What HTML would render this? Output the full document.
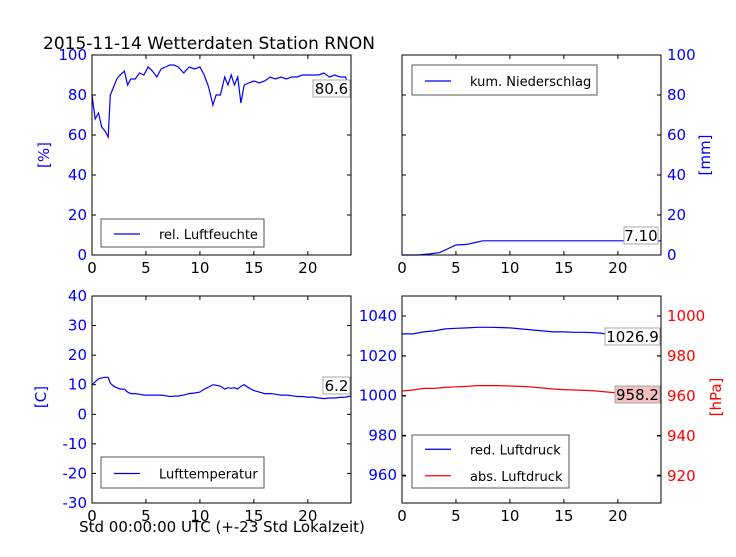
<!DOCTYPE html>
<html><head><meta charset="utf-8"><style>
body{margin:0;background:#fff;}
svg{font-family:"DejaVu Sans","Liberation Sans",sans-serif;}
</style></head><body>
<svg id="c" width="736" height="552" xmlns="http://www.w3.org/2000/svg">
<text x="43" y="49" font-size="17">2015-11-14 Wetterdaten Station RNON</text>
<g id="g"></g>
</svg>
<script>
const hours=[0,0.3,0.6,0.9,1.2,1.5,1.7,2.0,2.3,2.6,3.0,3.3,3.6,4.0,4.4,4.8,5.2,5.6,6.0,6.4,6.8,7.2,7.6,8.0,8.5,9.0,9.5,10.0,10.4,10.8,11.2,11.5,11.9,12.3,12.6,12.9,13.2,13.5,13.8,14.1,14.5,15,15.5,16,16.5,17,17.5,18,18.5,19,19.5,20,20.5,21,21.5,22,22.5,23,23.5,24];
const humidity=[80,68,71,64,62,59,80,84,88,90,92,85,88,88,91,90,94,92,89,93,94,95,95,94,91,94,93,94,90,84,75,80,80,89,85,90,85,89,76,85,86,87,86,87,89,88,89,88,89,89,90,90,90,90,91,89,90,89,89,80.6];
const precipHours=[0,1.5,2.5,3.5,4.2,5,6,7,7.5,10,15,20,24];
const precip=[0,0,0.5,1.2,3,5,5.3,6.5,7.1,7.1,7.1,7.1,7.1];
const temperature=[10,11,12,12.3,12.5,12.5,10.5,9.5,9,8.5,8.5,7.5,7,7,6.8,6.5,6.5,6.5,6.5,6.5,6.3,6,6.1,6.2,6.5,7,7.2,7.5,8.5,9.2,10,9.8,9.5,8.5,9,8.8,9,8.5,9.5,10,9,8,7.5,7,7,6.8,6.5,6.5,6.3,6,6,5.8,5.8,5.5,5.3,5.5,5.5,5.7,5.8,6.2];
const pressHours=[0,1,2,3,4,5,6,7,8,9,10,11,12,13,14,15,16,17,18,19,20,21,22,23,24];
const redPressure=[1031,1031,1032,1032.5,1033.5,1033.8,1034,1034.3,1034.3,1034.2,1034,1033.5,1033,1032.5,1032,1032,1031.8,1031.8,1031.5,1031,1030.8,1030.5,1030,1028.5,1026.9];
const absPressure=[962.5,963,963.8,963.8,964.3,964.6,964.8,965.2,965.2,965.2,965,964.8,964.5,964,963.5,963.2,963,962.8,962.5,962,961.5,960.8,960,959,958.2];
const xTicks=[0,5,10,15,20];

const g=document.getElementById('g');
const NS='http://www.w3.org/2000/svg';
function mk(t,a,p){const e=document.createElementNS(NS,t);for(const k in a)e.setAttribute(k,a[k]);(p||g).appendChild(e);return e;}
function panel(x0,x1,y0,y1){
  const p={x0,x1,y0,y1};
  p.x=h=>x0+(h/24)*(x1-x0);
  return p;
}
function frame(p,name){
  const r=mk('rect',{x:p.x0,y:p.y0,width:p.x1-p.x0,height:p.y1-p.y0,fill:'none',stroke:'#000','stroke-width':1});
  
  
  xTicks.forEach(t=>{
    const X=p.x(t);
    mk('line',{x1:X,y1:p.y1,x2:X,y2:p.y1-4,stroke:'#000'});
    mk('line',{x1:X,y1:p.y0,x2:X,y2:p.y0+4,stroke:'#000'});
    const tx=mk('text',{x:X,y:p.y1+18,'font-size':15,'text-anchor':'middle'});
    tx.textContent=t;
    
    
  });
}
function yTicks(p,vals,yf,side,color){
  vals.forEach(v=>{
    const Y=yf(v);
    mk('line',{x1:p.x0,y1:Y,x2:p.x0+4,y2:Y,stroke:'#000'});
    mk('line',{x1:p.x1,y1:Y,x2:p.x1-4,y2:Y,stroke:'#000'});
    const tx=mk('text',{x:side==='left'?p.x0-5:p.x1+6,y:Y+5,'font-size':15,fill:color,'text-anchor':side==='left'?'end':'start'});
    tx.textContent=v;
    
    
  });
}
function line(p,xs,ys,yf,color,name){
  const d=xs.map((h,i)=>(i?'L':'M')+p.x(h).toFixed(1)+','+yf(ys[i]).toFixed(1)).join('');
  const e=mk('path',{d,fill:'none',stroke:color,'stroke-width':1.2});
  
  
}
function legend(x,y,w,h,items,name){
  const r=mk('rect',{x,y,width:w,height:h,fill:'#fff',stroke:'#555','stroke-width':1});
  
  
  items.forEach((it,i)=>{
    const cy=y+(h/items.length)*(i+0.5)+1;
    mk('line',{x1:x+13,y1:cy,x2:x+39,y2:cy,stroke:it[1],'stroke-width':1.2});
    const t=mk('text',{x:x+58,y:cy+5,'font-size':13});
    t.textContent=it[0];
    
    
  });
}
function valBox(x,y,w,txt,fill,name){
  mk('rect',{x,y,width:w,height:17,fill,stroke:'#aaa'});
  const t=mk('text',{x:x+w/2,y:y+14,'font-size':15,'text-anchor':'middle'});
  t.textContent=txt;
  
  
}
function ylab(x,y,txt,color,name){
  const t=mk('text',{x,y,'font-size':15,fill:color,'text-anchor':'middle',transform:`rotate(-90 ${x} ${y})`});
  t.textContent=txt;
  
  
}

const p1=panel(92,351,55,255);
const y1=v=>255-v*2;
line(p1,hours,humidity,y1,'#0000ff','humidity-line');
frame(p1,'humidity');
yTicks(p1,[0,20,40,60,80,100],y1,'left','#0000ff');
ylab(49,155,'[%]','#0000ff','humidity-y-axis-title');
legend(101,219,163,28,[['rel. Luftfeuchte','#0000ff']],'humidity-legend');
valBox(313,80,37,'80.6','#fff','humidity-last-value');

const p2=panel(402,661,55,255);
const y2=v=>255-v*2;
line(p2,precipHours,precip,y2,'#0000ff','precipitation-line');
frame(p2,'precipitation');
yTicks(p2,[0,20,40,60,80,100],y2,'right','#0000ff');
ylab(710,155,'[mm]','#0000ff','precipitation-y-axis-title');
legend(412,65,185,30,[['kum. Niederschlag','#0000ff']],'precipitation-legend');
valBox(624,227,34,'7.10','#fff','precipitation-last-value');

const p3=panel(92,351,296,503);
const y3=v=>296+(40-v)*207/70;
line(p3,hours,temperature,y3,'#0000ff','temperature-line');
frame(p3,'temperature');
yTicks(p3,[40,30,20,10,0,-10,-20,-30],y3,'left','#0000ff');
ylab(46,397,'[C]','#0000ff','temperature-y-axis-title');
legend(101,457,163,31,[['Lufttemperatur','#0000ff']],'temperature-legend');
valBox(323,377,27,'6.2','#fff','temperature-last-value');
const xl=mk('text',{x:222,y:532,'font-size':15,'text-anchor':'middle'});
xl.textContent='Std 00:00:00 UTC (+-23 Std Lokalzeit)';



const p4=panel(402,661,296,503);
const y4=v=>316+(1040-v)*1.99;
const y4r=v=>316+(1000-v)*2;
line(p4,pressHours,redPressure,y4,'#0000ff','reduced-pressure-line');
line(p4,pressHours,absPressure,y4r,'#ff0000','absolute-pressure-line');
frame(p4,'pressure');
yTicks(p4,[1040,1020,1000,980,960],y4,'left','#0000ff');
yTicks(p4,[1000,980,960,940,920],y4r,'right','#ff0000');
ylab(721,397,'[hPa]','#ff0000','pressure-y-axis-title');
legend(412,435,157,53,[['red. Luftdruck','#0000ff'],['abs. Luftdruck','#ff0000']],'pressure-legend');
valBox(605,328,55,'1026.9','#fff','reduced-pressure-last-value');
valBox(615,386,45,'958.2','#f5c0c0','absolute-pressure-last-value');
</script>
</body></html>
